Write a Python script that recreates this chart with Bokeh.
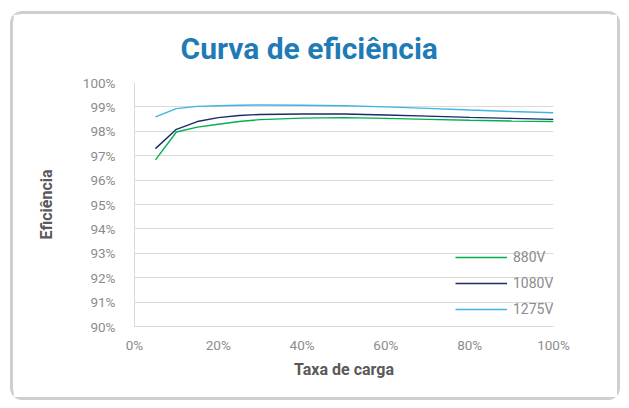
from bokeh.plotting import figure
from bokeh.models import Title, Legend, LegendItem, FixedTicker
from bokeh.embed import file_html
from bokeh.resources import INLINE

load = [5, 10, 15, 20, 25, 30, 40, 50, 60, 70, 80, 90, 100]
eff_880 = [96.83, 97.97, 98.17, 98.29, 98.40, 98.48, 98.54, 98.56, 98.53, 98.49, 98.45, 98.42, 98.40]
eff_1080 = [97.29, 98.08, 98.40, 98.56, 98.65, 98.69, 98.71, 98.71, 98.67, 98.62, 98.57, 98.53, 98.49]
eff_1275 = [98.59, 98.93, 99.02, 99.05, 99.07, 99.08, 99.07, 99.05, 99.00, 98.94, 98.87, 98.81, 98.76]
series_names = ["880V", "1080V", "1275V"]
colors = ["#00b050", "#1a2b66", "#41b3e3"]
x_ticks = [0, 20, 40, 60, 80, 100]
y_ticks = [90, 91, 92, 93, 94, 95, 96, 97, 98, 99, 100]

p = figure(width=610, height=389, output_backend="svg", toolbar_location=None,
           x_range=(0, 100), y_range=(90, 100),
           min_border_left=121, min_border_right=70, min_border_top=68, min_border_bottom=77)
p.outline_line_color = None
p.background_fill_color = "white"
p.border_fill_color = "white"
p.styles = {"border": "3px solid #cfcfcf", "border-radius": "12px",
            "margin-top": "11px", "margin-left": "10px"}

p.xgrid.grid_line_color = None
p.ygrid.grid_line_color = "#d9d9d9"
p.ygrid.grid_line_width = 1

p.xaxis.ticker = FixedTicker(ticks=x_ticks)
p.yaxis.ticker = FixedTicker(ticks=y_ticks)
p.xaxis.major_label_overrides = {t: f"{t}%" for t in x_ticks}
p.yaxis.major_label_overrides = {t: f"{t}%" for t in y_ticks}
for ax in (p.xaxis, p.yaxis):
    ax.major_tick_line_color = None
    ax.minor_tick_line_color = None
    ax.axis_line_color = "#d9d9d9"
    ax.major_label_text_color = "#8c8c8c"
    ax.major_label_text_font = "Roboto"
    ax.major_label_text_font_size = "13.5px"
    ax.axis_label_text_color = "#595959"
    ax.axis_label_text_font = "Roboto"
    ax.axis_label_text_font_size = "16px"
    ax.axis_label_text_font_style = "bold"
p.yaxis.major_label_standoff = 13
p.xaxis.major_label_standoff = 4
p.xaxis.axis_label = "Taxa de carga"
p.yaxis.axis_label = "Eficiência"
p.xaxis.axis_label_standoff = 4
p.yaxis.axis_label_standoff = 24

items = []
for ys, c, n in zip([eff_880, eff_1080, eff_1275], colors, series_names):
    r = p.line(load, ys, line_color=c, line_width=1.4)
    items.append(LegendItem(label=n, renderers=[r]))

legend = Legend(items=items, location=(321, 4), orientation="vertical")
legend.background_fill_alpha = 0
legend.border_line_color = None
legend.padding = 0
legend.margin = 0
legend.spacing = 0
legend.glyph_width = 52
legend.glyph_height = 26
legend.label_height = 26
legend.label_standoff = 6
legend.label_text_color = "#8c8c8c"
legend.label_text_font = "Roboto"
legend.label_text_font_size = "14px"
p.add_layout(legend, "center")

title = Title(text="Curva de eficiência", align="left", offset=46, standoff=30,
              vertical_align="top",
              text_color="#1f7bb6", text_font="Roboto",
              text_font_size="30px", text_font_style="bold")
p.add_layout(title, "above")

open("out.html", "w").write(file_html(p, INLINE))
